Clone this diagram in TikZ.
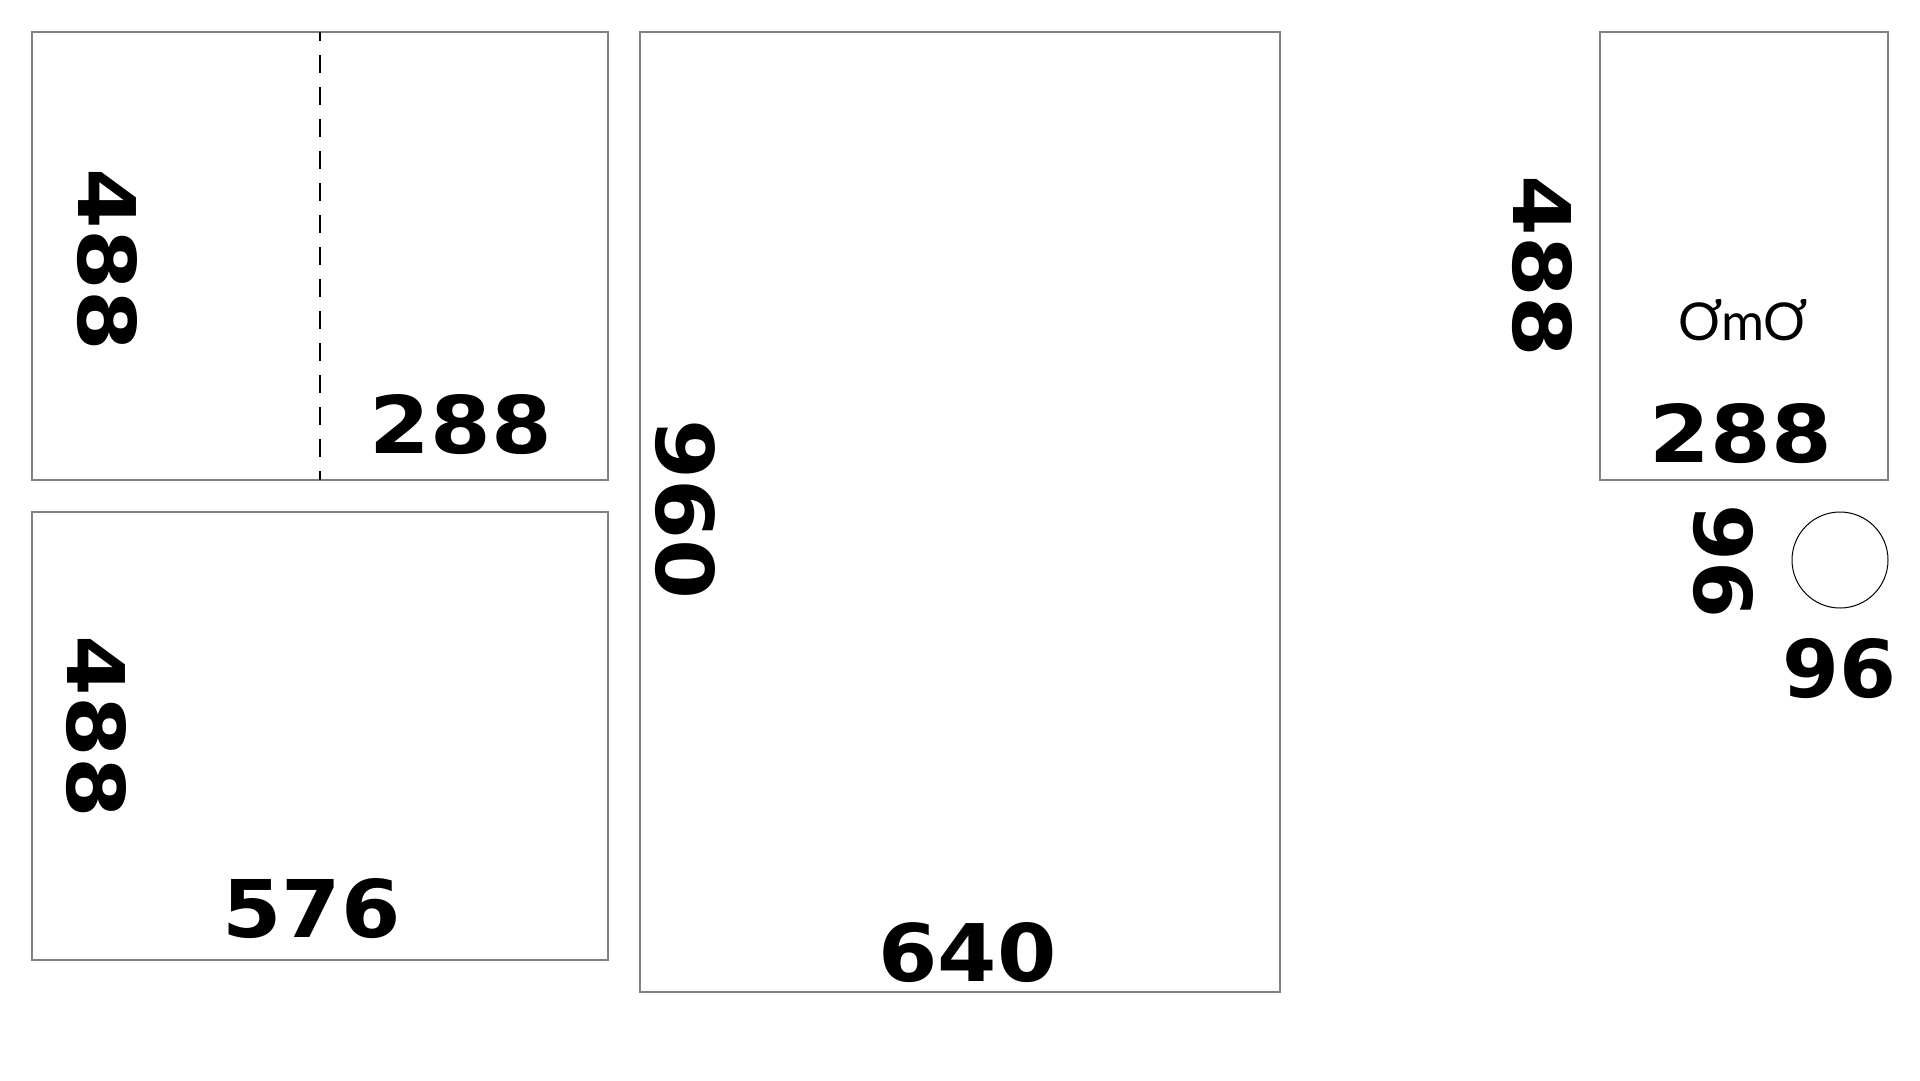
\documentclass[tikz,border=0pt]{standalone}
\usepackage{fontspec}
\usepackage{graphicx}
\setmainfont{DejaVu Sans}
\newfontfamily\thinfont{Lato}
\definecolor{edgegray}{HTML}{808080}
\tikzset{
  px/.style={x=1pt,y=-1pt},
  panel/.style={draw=edgegray,line width=2pt,fill=none,inner sep=0pt,outer sep=0pt,rectangle},
  round panel/.style={draw=black,line width=1pt,fill=none,inner sep=0pt,outer sep=0pt,circle,minimum size=96pt},
  numlabel/.style={inner sep=0pt,outer sep=0pt,text=black},
  fold/.style={draw=black,line width=1.5pt,dash pattern=on 17.6pt off 14.4pt,dash phase=9pt},
}
\newcommand{\num}[2]{\resizebox{#1pt}{59pt}{\bfseries #2}}
\begin{document}
\begin{tikzpicture}[px]
\useasboundingbox (0,0) rectangle (1920,1080);
\fill[white] (0,0) rectangle (1920,1080);
\node[panel,minimum width=576pt,minimum height=448pt] (a) at (320,256) {};
\node[panel,minimum width=576pt,minimum height=448pt] (b) at (320,736) {};
\node[panel,minimum width=640pt,minimum height=960pt] (c) at (960,512) {};
\node[panel,minimum width=288pt,minimum height=448pt] (d) at (1744,256) {};
\node[round panel] (e) at (1840,560) {};
\draw[fold] (a.north) -- (a.south);
\node[numlabel,rotate=-90] (l1) at (107,260) {\num{182}{488}};
\node[numlabel] (l2) at (461,424.5) {\num{182}{288}};
\node[numlabel,rotate=-90] (l3) at (96,727) {\num{182}{488}};
\node[numlabel] (l4) at (311.5,908.5) {\num{178}{576}};
\node[numlabel,rotate=-90] (l5) at (685.5,509.5) {\num{180}{960}};
\node[numlabel] (l6) at (967.5,952.5) {\num{178}{640}};
\node[numlabel,rotate=-90] (l7) at (1542,266.5) {\num{182}{488}};
\node[numlabel] (l8) at (1741,433.5) {\num{182}{288}};
\node[numlabel,rotate=-90] (l9) at (1723.5,561.5) {\num{114}{96}};
\node[numlabel] (l10) at (1839.5,668.5) {\num{114}{96}};
\node[numlabel] (t) at (1743,320.5) {\resizebox{130pt}{41pt}{\thinfont ƠmƠ}};
\end{tikzpicture}
\end{document}
